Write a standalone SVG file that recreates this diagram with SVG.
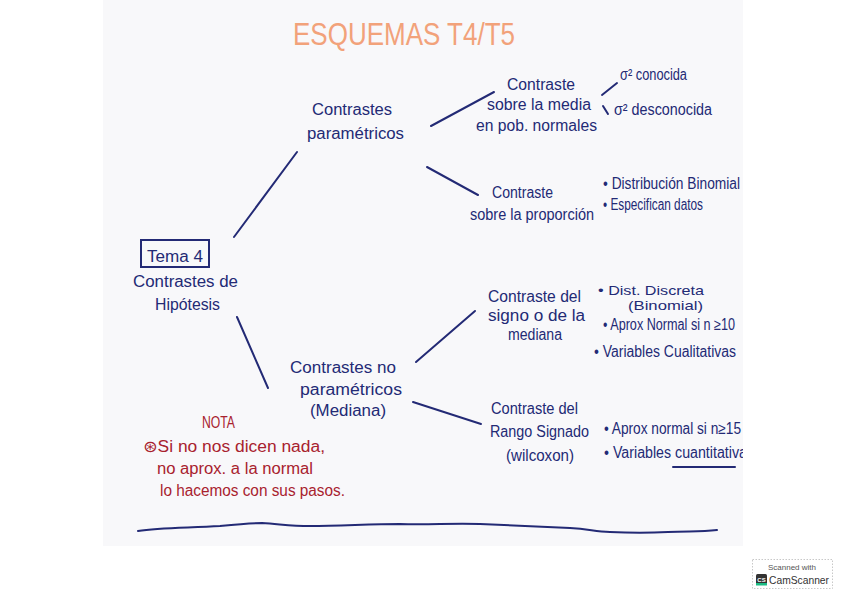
<svg xmlns="http://www.w3.org/2000/svg" width="848" height="599" viewBox="0 0 848 599">
<style>
.t{font-family:"Liberation Sans","DejaVu Sans",sans-serif;font-size:16px;fill:#232a75}
.s{font-size:13px}
.r{font-family:"Liberation Sans","DejaVu Sans",sans-serif;font-size:16px;fill:#a8222e}
.ln{stroke:#232a75;stroke-width:2;fill:none;stroke-linecap:round}
</style>
<defs>
<clipPath id="paper"><rect x="103" y="0" width="640" height="546"/></clipPath>
</defs>
<rect width="848" height="599" fill="#ffffff"/>
<rect x="103" y="0" width="640" height="546" fill="#f8f8fa"/>
<g clip-path="url(#paper)">
<text id="title" x="404" y="45" text-anchor="middle" font-family="Liberation Sans, sans-serif" font-size="32" fill="#f2a27a" textLength="222" lengthAdjust="spacingAndGlyphs">ESQUEMAS T4/T5</text>

<g id="connectors">
<path class="ln" d="M234 237 L297 152"/>
<path class="ln" d="M237 317 L268 388"/>
<path class="ln" d="M431 126 L494 92"/>
<path class="ln" d="M427 167 L478 195"/>
<path class="ln" d="M602 95 L617 83"/>
<path class="ln" d="M603 106 L608 114" stroke-width="1.5"/>
<path class="ln" d="M416 362 L475 311"/>
<path class="ln" d="M413 402 L481 424"/>
</g>

<g id="tema4">
<rect x="141" y="240" width="68" height="27" fill="none" stroke="#232a75" stroke-width="2"/>
<text class="t" x="147" y="262" textLength="56" lengthAdjust="spacingAndGlyphs">Tema 4</text>
<text class="t" x="133" y="287" textLength="105" lengthAdjust="spacingAndGlyphs">Contrastes de</text>
<text class="t" x="155" y="310" textLength="65" lengthAdjust="spacingAndGlyphs">Hipótesis</text>
</g>

<g id="parametricos">
<text class="t" x="312" y="115" textLength="80" lengthAdjust="spacingAndGlyphs">Contrastes</text>
<text class="t" x="307" y="139" textLength="97" lengthAdjust="spacingAndGlyphs">paramétricos</text>
</g>

<g id="media">
<text class="t" x="507" y="90" textLength="68" lengthAdjust="spacingAndGlyphs">Contraste</text>
<text class="t" x="487" y="110" textLength="104" lengthAdjust="spacingAndGlyphs">sobre la media</text>
<text class="t" x="476" y="131" textLength="121" lengthAdjust="spacingAndGlyphs">en pob. normales</text>
</g>

<g id="sigma">
<text class="t" x="620" y="80" textLength="67" lengthAdjust="spacingAndGlyphs">σ² conocida</text>
<text class="t" x="614" y="115" textLength="98" lengthAdjust="spacingAndGlyphs">σ² desconocida</text>
</g>

<g id="proporcion">
<text class="t" x="492" y="198" textLength="61" lengthAdjust="spacingAndGlyphs">Contraste</text>
<text class="t" x="470" y="220" textLength="124" lengthAdjust="spacingAndGlyphs">sobre la proporción</text>
</g>

<g id="prop-items">
<text class="t" x="603" y="189" textLength="137" lengthAdjust="spacingAndGlyphs">• Distribución Binomial</text>
<text class="t" x="603" y="210" textLength="100" lengthAdjust="spacingAndGlyphs">• Especifican datos</text>
</g>

<g id="noparametricos">
<text class="t" x="290" y="373" textLength="106" lengthAdjust="spacingAndGlyphs">Contrastes no</text>
<text class="t" x="300" y="395" textLength="102" lengthAdjust="spacingAndGlyphs">paramétricos</text>
<text class="t" x="310" y="416" textLength="76" lengthAdjust="spacingAndGlyphs">(Mediana)</text>
</g>

<g id="signo">
<text class="t" x="488" y="302" textLength="93" lengthAdjust="spacingAndGlyphs">Contraste del</text>
<text class="t" x="488" y="321" textLength="97" lengthAdjust="spacingAndGlyphs">signo o de la</text>
<text class="t" x="508" y="340" textLength="54" lengthAdjust="spacingAndGlyphs">mediana</text>
</g>

<g id="signo-items">
<text class="t s" x="598" y="295" textLength="106" lengthAdjust="spacingAndGlyphs">• Dist. Discreta</text>
<text class="t s" x="628" y="310" textLength="75" lengthAdjust="spacingAndGlyphs">(Binomial)</text>
<text class="t" x="603" y="330" textLength="132" lengthAdjust="spacingAndGlyphs">• Aprox Normal si n ≥10</text>
<text class="t" x="594" y="357" textLength="142" lengthAdjust="spacingAndGlyphs">• Variables Cualitativas</text>
</g>

<g id="rango">
<text class="t" x="491" y="414" textLength="87" lengthAdjust="spacingAndGlyphs">Contraste del</text>
<text class="t" x="490" y="437" textLength="99" lengthAdjust="spacingAndGlyphs">Rango Signado</text>
<text class="t" x="506" y="461" textLength="68" lengthAdjust="spacingAndGlyphs">(wilcoxon)</text>
</g>

<g id="rango-items">
<text class="t" x="604" y="434" textLength="137" lengthAdjust="spacingAndGlyphs">• Aprox normal si n≥15</text>
<text class="t" x="604" y="458" textLength="150" lengthAdjust="spacingAndGlyphs">• Variables cuantitativas</text>
<path class="ln" d="M673 467 L735 467"/>
</g>

<g id="nota">
<text class="r" x="202" y="428" textLength="33" lengthAdjust="spacingAndGlyphs" font-size="14">NOTA</text>
<text class="r" x="143" y="452" textLength="182" lengthAdjust="spacingAndGlyphs">⊛Si no nos dicen nada,</text>
<text class="r" x="157" y="474" textLength="156" lengthAdjust="spacingAndGlyphs">no aprox. a la normal</text>
<text class="r" x="160" y="496" textLength="185" lengthAdjust="spacingAndGlyphs">lo hacemos con sus pasos.</text>
</g>

<path id="wave" class="ln" d="M138 531 C160 527 190 528 220 526 C240 524 250 523 262 523 C280 524 290 526 310 526 C340 526 370 524 400 524 C430 525 450 523 480 524 C520 526 550 527 570 528 C590 529 595 532 610 532 C630 533 650 533 668 532 C690 531 700 532 717 530"/>
</g>

<g id="camscanner">
<rect x="752.5" y="559.5" width="80" height="29" fill="#ffffff" stroke="#c8c8c8" stroke-width="1" stroke-dasharray="1.5 1.5"/>
<text x="792" y="570" text-anchor="middle" font-family="Liberation Sans, sans-serif" font-size="8" fill="#555">Scanned with</text>
<rect x="756" y="574" width="11" height="11" rx="1.5" fill="#333"/>
<rect x="756" y="583" width="11" height="2.5" fill="#1bbc83"/>
<text x="761.5" y="582" text-anchor="middle" font-family="Liberation Sans, sans-serif" font-size="6" font-weight="bold" fill="#fff">CS</text>
<text x="769" y="584" font-family="Liberation Sans, sans-serif" font-size="11" fill="#333" textLength="60" lengthAdjust="spacingAndGlyphs">CamScanner</text>
</g>
</svg>
